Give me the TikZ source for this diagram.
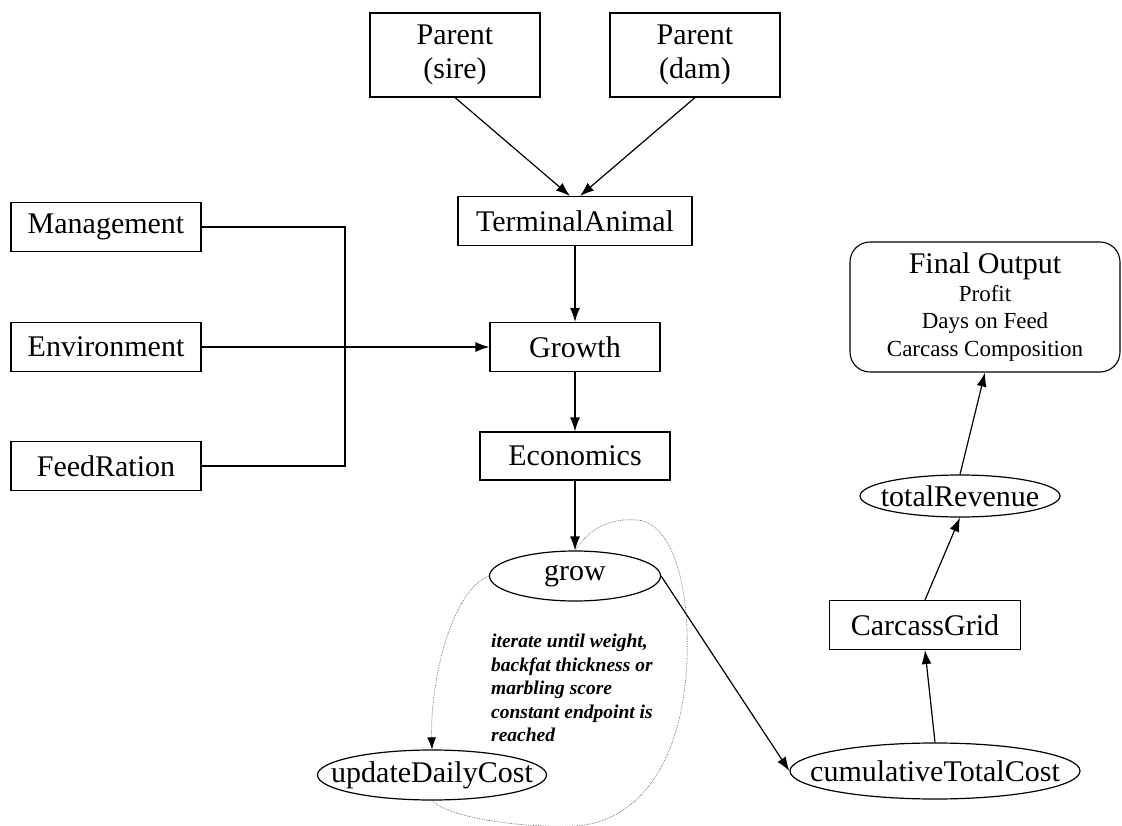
\documentclass[tikz,border=0pt]{standalone}
\usepackage{fontspec}
\setmainfont{Liberation Serif}
\usetikzlibrary{shapes,arrows,arrows.meta,positioning}

\begin{document}
\begin{tikzpicture}[x=1pt,y=-1pt,
    box/.style={draw,rectangle,line width=1.1pt,inner sep=0pt,minimum height=49pt,font=\fontsize{30}{34}\selectfont},
    oval/.style={draw,ellipse,line width=1.2pt,inner sep=0pt,font=\fontsize{30}{34}\selectfont},
    link/.style={line width=1.2pt,-{Latex[length=14pt,width=10pt]}},
    loopline/.style={black!60,line width=0.7pt,densely dotted}]
    \useasboundingbox (0,0) rectangle (1122,826);

    % Parents and the animal
    \node[box,align=center,minimum width=170pt,minimum height=84pt] (sire) at (455,55) {Parent\\(sire)};
    \node[box,align=center,minimum width=170pt,minimum height=84pt] (dam) at (695,55) {Parent\\(dam)};
    \node[box,minimum width=234pt] (ta) at (575,221) {TerminalAnimal};

    % Inputs
    \node[box,minimum width=190pt] (mgmt) at (106,227) {Management};
    \node[box,minimum width=190pt] (env) at (106,347) {Environment};
    \node[box,minimum width=190pt] (feed) at (106,466) {FeedRation};
    \coordinate (merge) at (345,347);

    % Main chain
    \node[box,minimum width=170pt] (growth) at (575,347) {Growth};
    \node[box,minimum width=190pt,minimum height=48pt] (econ) at (575,456) {Economics};
    \node[oval,minimum width=171pt,minimum height=50pt] (grow) at (575,576) {\makebox[0pt]{grow}};
    \node[oval,minimum width=229pt,minimum height=50pt] (udc) at (432,775) {\makebox[0pt]{updateDailyCost}};
    \node[anchor=west,align=left,inner sep=0pt,font=\fontsize{19.5}{23.5}\selectfont\bfseries\itshape] (note) at (491,688)
        {iterate until weight,\\backfat thickness or\\marbling score\\constant endpoint is\\reached};

    % Output side
    \node[oval,minimum width=290pt,minimum height=56pt] (ctc) at (935,771) {\makebox[0pt]{cumulativeTotalCost}};
    \node[box,minimum width=191pt] (grid) at (925,625) {CarcassGrid};
    \node[oval,minimum width=200pt,minimum height=42pt] (rev) at (960,496) {\makebox[0pt]{totalRevenue}};
    \node[draw,rounded corners=20pt,line width=1.1pt,minimum width=270pt,minimum height=130pt,align=center,inner sep=0pt,
        font=\fontsize{23}{27.5}\selectfont] (final) at (985,307)
        {{\fontsize{30}{34}\selectfont Final Output}\\Profit\\Days on Feed\\Carcass Composition};

    % Edges
    \draw[link] (sire.south) -- ([xshift=-5pt]ta.north);
    \draw[link] (dam.south) -- ([xshift=5pt]ta.north);
    \draw[link] (ta) -- (growth);
    \draw[line width=1.2pt] (mgmt.east) -| (merge) |- (feed.east);
    \draw[link] (env.east) -- (growth.west);
    \draw[link] (growth) -- (econ);
    \draw[link] (econ) -- (grow);
    \draw[link] (grow.east) -- (ctc.west);
    \draw[link] (ctc.north) -- (grid.south);
    \draw[link] (grid.north) -- (rev.south);
    \draw[link] (rev.north) -- (final.south);

    % Iteration loop
    \draw[loopline,-{Latex[length=12pt,width=9pt,black]}] (grow.west) .. controls (452,590) and (430,680) .. (udc.north);
    \draw[loopline] (udc.south) .. controls (450,818) and (520,828) .. (575,826)
        .. controls (640,822) and (683,760) .. (687,660)
        .. controls (690,580) and (670,522) .. (637,520)
        .. controls (610,518) and (590,528) .. (grow.north);
\end{tikzpicture}
\end{document}
